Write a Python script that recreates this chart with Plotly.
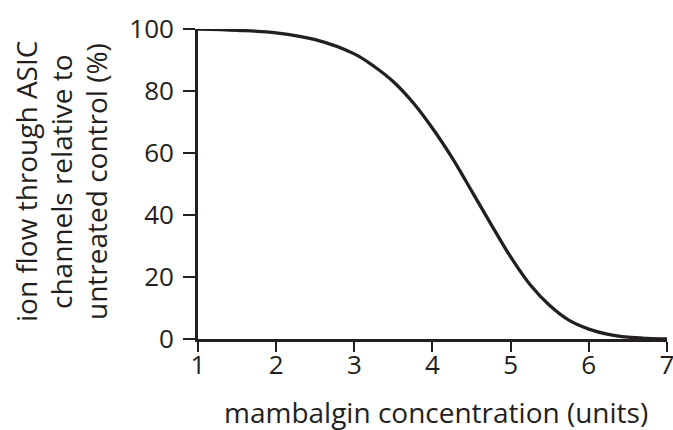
import plotly.graph_objects as go

concentration = [1.0, 1.5, 2.0, 2.5, 3.0, 3.25, 3.5, 3.75, 4.0, 4.25, 4.5, 4.75,
                 5.0, 5.25, 5.5, 5.75, 6.0, 6.25, 6.5, 6.75, 7.0]
ion_flow = [100, 99.6, 98.8, 96.6, 92.0, 88.0, 83.0, 76.3, 68.0, 58.5, 47.8, 37.0,
            26.5, 17.5, 10.8, 6.0, 3.2, 1.5, 0.6, 0.2, 0]

x_ticks = [1, 2, 3, 4, 5, 6, 7]
y_ticks = [0, 20, 40, 60, 80, 100]
y_title_lines = ["ion flow through ASIC", "channels relative to", "untreated control (%)"]
x_title = "mambalgin concentration (units)"

FONT = "Open Sans"
INK = "#231f20"
W, H = 673, 430
ML, MR, MT, MB = 198, 6, 29, 91
PW, PH = W - ML - MR, H - MT - MB

fig = go.Figure()
fig.add_trace(go.Scatter(
    x=concentration, y=ion_flow, mode="lines",
    line=dict(color=INK, width=3.3, shape="spline", smoothing=1.0),
    cliponaxis=False, hoverinfo="skip", showlegend=False,
))

fig.update_layout(
    width=W, height=H,
    margin=dict(l=ML, r=MR, t=MT, b=MB, autoexpand=False),
    paper_bgcolor="white", plot_bgcolor="white",
    font=dict(family=FONT, color=INK),
)
fig.update_xaxes(
    range=[1, 7.0005], tickvals=x_ticks, ticks="outside", ticklen=10, tickwidth=1.6,
    tickcolor=INK, showline=True, linecolor=INK, linewidth=2.7, showgrid=False,
    zeroline=False, automargin=False, ticklabeloverflow="allow", ticklabelstandoff=-9,
    tickfont=dict(size=26, family=FONT, color=INK),
)
fig.update_yaxes(
    range=[0, 100.02], tickvals=y_ticks, ticks="outside", ticklen=12, tickwidth=1.6,
    tickcolor=INK, showline=True, linecolor=INK, linewidth=2.7, showgrid=False,
    zeroline=False, automargin=False, ticklabeloverflow="allow", ticklabelstandoff=4,
    tickfont=dict(size=26, family=FONT, color=INK),
)

# x-axis title
fig.add_annotation(
    text=x_title, xref="paper", yref="paper",
    x=(436 - ML) / PW, y=(H - MB - 412) / PH,
    xanchor="center", yanchor="middle", showarrow=False,
    font=dict(size=28, family=FONT, color=INK),
)

# y-axis title, three centred lines
y_title_px = [26, 61, 96]
for line, px in zip(y_title_lines, y_title_px):
    fig.add_annotation(
        text=line, xref="paper", yref="paper",
        x=(px - ML) / PW, y=(H - MB - 182) / PH,
        xanchor="center", yanchor="middle", textangle=-90, showarrow=False,
        font=dict(size=28, family=FONT, color=INK),
    )

fig.write_html(
    "out.html",
    config={"displayModeBar": False},
    post_script="document.body.style.margin='0px';document.body.style.overflow='hidden';",
)
